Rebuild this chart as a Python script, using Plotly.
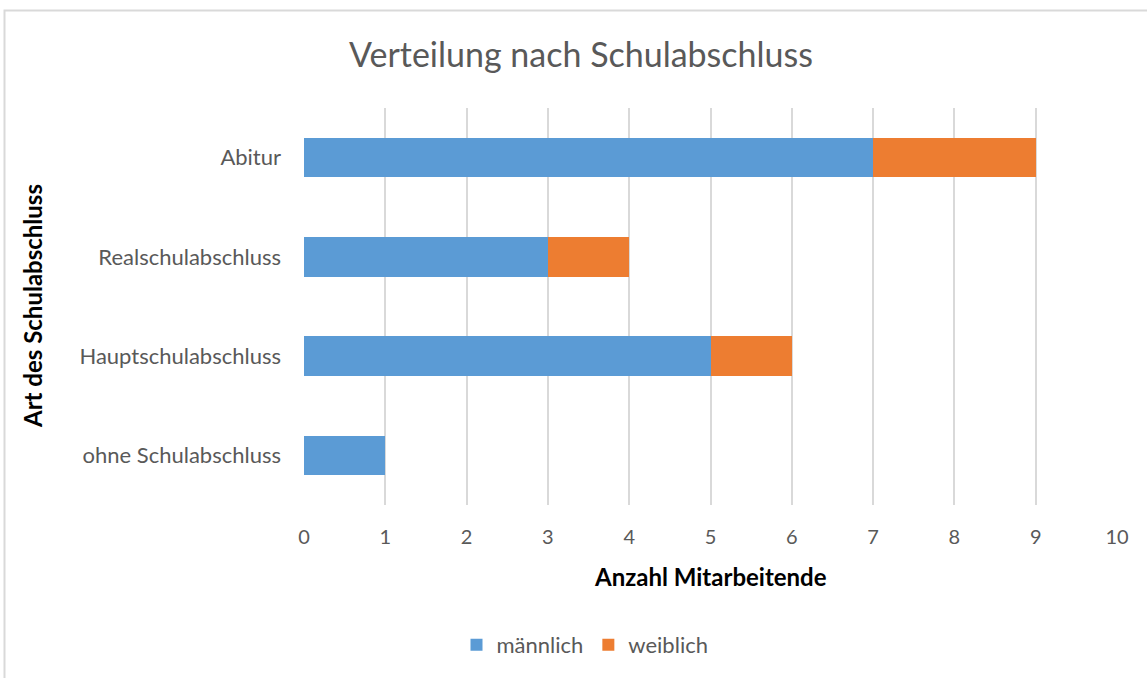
import plotly.graph_objects as go

categories = ["ohne Schulabschluss", "Hauptschulabschluss", "Realschulabschluss", "Abitur"]
maennlich = [1, 5, 3, 7]
weiblich = [0, 1, 1, 2]
x_ticks = [0, 1, 2, 3, 4, 5, 6, 7, 8, 9, 10]

W, H = 1147, 678
L, R, T, B = 304, 30, 108, 173
pw, ph = W - L - R, H - T - B

def px(x):
    return (x - L) / pw

def py(y):
    return 1 - (y - T) / ph

FONT = "Lato"
GRAY = "#595959"

fig = go.Figure()
fig.add_trace(go.Bar(y=categories, x=maennlich, name="männlich", orientation="h",
                     marker=dict(color="#5B9BD5", line=dict(width=0))))
fig.add_trace(go.Bar(y=categories, x=weiblich, name="weiblich", orientation="h",
                     marker=dict(color="#ED7D31", line=dict(width=0))))

fig.update_layout(
    width=W, height=H,
    margin=dict(l=L, r=R, t=T, b=B, autoexpand=False),
    barmode="stack", bargap=0.6,
    paper_bgcolor="white", plot_bgcolor="white",
    font=dict(family=FONT, color=GRAY, size=20),
    title=dict(text="Verteilung nach Schulabschluss", x=581 / W, xanchor="center",
               y=1 - 55 / H, yanchor="middle", xref="container", yref="container",
               font=dict(size=34, color=GRAY, family=FONT)),
    xaxis=dict(range=[0, 10], tickvals=x_ticks, showgrid=True, gridcolor="#D9D9D9",
               gridwidth=2, zeroline=False, showline=False, ticks="",
               ticklabelstandoff=18, tickfont=dict(size=20, color=GRAY), fixedrange=True),
    yaxis=dict(showgrid=False, zeroline=False, showline=False, ticks="",
               ticklabelstandoff=22, tickfont=dict(size=22, color=GRAY)),
    legend=dict(orientation="h", x=px(585), xanchor="center", y=py(645), yanchor="middle",
                font=dict(size=22, color=GRAY), traceorder="normal", itemwidth=30),
    showlegend=True,
)

fig.add_annotation(text="<b>Anzahl Mitarbeitende</b>", xref="paper", yref="paper",
                   x=px(710), y=py(576), showarrow=False, xanchor="center", yanchor="middle",
                   font=dict(size=24, color="black", family=FONT))
fig.add_annotation(text="<b>Art des Schulabschluss</b>", xref="paper", yref="paper",
                   x=px(32), y=py(306), showarrow=False, xanchor="center", yanchor="middle",
                   textangle=-90, font=dict(size=24, color="black", family=FONT))

fig.add_shape(type="rect", xref="paper", yref="paper", x0=px(4.5), y0=py(690), x1=px(1160),
              y1=py(10.5), line=dict(color="#D9D9D9", width=2), fillcolor="rgba(0,0,0,0)", layer="below")

fig.write_html("out.html", config={"displayModeBar": False},
               post_script="document.body.style.margin='0';")
